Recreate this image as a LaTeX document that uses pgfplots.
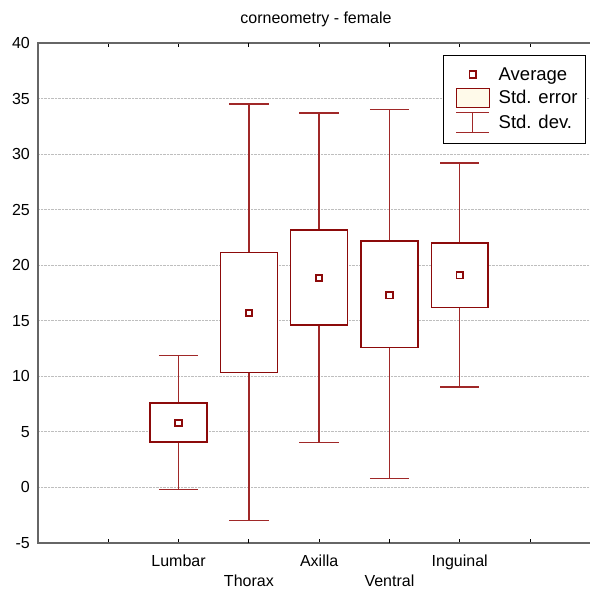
\documentclass[border=0pt]{standalone}
\usepackage{fontspec}
\setmainfont{Liberation Sans}
\usepackage{pgfplots}
\pgfplotsset{compat=1.18}
\usepgfplotslibrary{statistics}
\definecolor{boxcol}{RGB}{140,10,10}
\definecolor{whiskcol}{RGB}{160,40,40}
\definecolor{cream}{RGB}{255,250,234}
\definecolor{gridcol}{RGB}{190,190,190}
\begin{document}
\begin{tikzpicture}
\useasboundingbox (0pt,0pt) rectangle (590pt,589pt);
\clip (0pt,0pt) rectangle (590pt,589pt);
\begin{axis}[
  at={(38pt,46pt)}, anchor=south west,
  scale only axis, width=556pt, height=500pt,
  xmin=-1, xmax=6.91, ymin=-5, ymax=40,
  axis line style={-},
  x axis line style={draw=black!85, line width=1.4pt},
  y axis line style={draw=black!60, line width=1.9pt},
  xtick={0,1,3,5,6}, xticklabels={,Lumbar,Axilla,Inguinal,},
  extra x ticks={2,4}, extra x tick labels={Thorax,Ventral},
  extra x tick style={xticklabel style={yshift=-20pt}},
  xtick style={draw=black, line width=0.8pt},
  major tick length=4pt, tick align=inside,
  ytick={-5,0,...,40},
  ytick style={draw=none},
  ymajorgrids, grid style={densely dotted, gridcol, line width=0.8pt},
  /pgf/number format/assume math mode=true,
  tick label style={font=\fontsize{16}{19}\selectfont},
  xticklabel style={anchor=north, inner sep=0pt, yshift=-12pt},
  yticklabel style={anchor=east, inner sep=0pt, xshift=-8pt},
  title={corneometry - female},
  title style={font=\fontsize{16}{19}\selectfont, at={(0.5,1)}, anchor=base, yshift=13pt},
  boxplot/draw direction=y,
  boxplot/box extend=0.81,
  boxplot/whisker extend=0.56,
  boxplot/every box/.style={draw=boxcol, fill=white, line width=1.5pt},
  boxplot/every whisker/.style={draw=whiskcol, line width=1.4pt},
  boxplot/every median/.style={draw=none},
  boxplot/draw/median/.code={},
  legend style={at={(0.9856,0.976)}, anchor=north east, draw=black, line width=0.9pt,
    fill=white, font=\fontsize{18.5}{22}\selectfont, row sep=4pt,
    inner xsep=6pt, inner ysep=10pt, nodes={inner sep=2pt}},
  legend cell align=left,
]
\addplot[forget plot, boxplot prepared={draw position=1, lower whisker=-0.2, lower quartile=4.1, median=5.8, upper quartile=7.6, upper whisker=11.85}] coordinates {};
\addplot[forget plot, boxplot prepared={draw position=2, lower whisker=-2.95, lower quartile=10.35, median=15.7, upper quartile=21.15, upper whisker=34.5}] coordinates {};
\addplot[forget plot, boxplot prepared={draw position=3, lower whisker=4.05, lower quartile=14.6, median=18.85, upper quartile=23.15, upper whisker=33.7}] coordinates {};
\addplot[forget plot, boxplot prepared={draw position=4, lower whisker=0.8, lower quartile=12.6, median=17.3, upper quartile=22.2, upper whisker=34.0}] coordinates {};
\addplot[forget plot, boxplot prepared={draw position=5, lower whisker=9.05, lower quartile=16.2, median=19.1, upper quartile=22.0, upper whisker=29.2}] coordinates {};
\addplot[forget plot, only marks, mark=square*, mark size=3.2pt,
  mark options={draw=boxcol, fill=white, line width=1.8pt}]
  coordinates {(1,5.8) (2,15.7) (3,18.85) (4,17.3) (5,19.1)};
\addlegendimage{legend image code/.code={
  \path (-6pt,0pt) (40pt,0pt);
  \draw[draw=boxcol, fill=white, line width=1.8pt] (13.3pt,-3.2pt) rectangle (19.7pt,3.2pt);}}
\addlegendentry{Average}
\addlegendimage{legend image code/.code={
  \path (-6pt,0pt) (40pt,0pt);
  \draw[draw=boxcol, fill=cream, line width=1.4pt] (0pt,-9.5pt) rectangle (33pt,9.5pt);}}
\addlegendentry{Std. error}
\addlegendimage{legend image code/.code={
  \path (-6pt,0pt) (40pt,0pt);
  \draw[draw=whiskcol, line width=1.4pt] (0pt,10pt) -- (33pt,10pt) (16.5pt,10pt) -- (16.5pt,-10pt) (0pt,-10pt) -- (33pt,-10pt);}}
\addlegendentry{Std. dev.}
\end{axis}
\end{tikzpicture}
\end{document}
